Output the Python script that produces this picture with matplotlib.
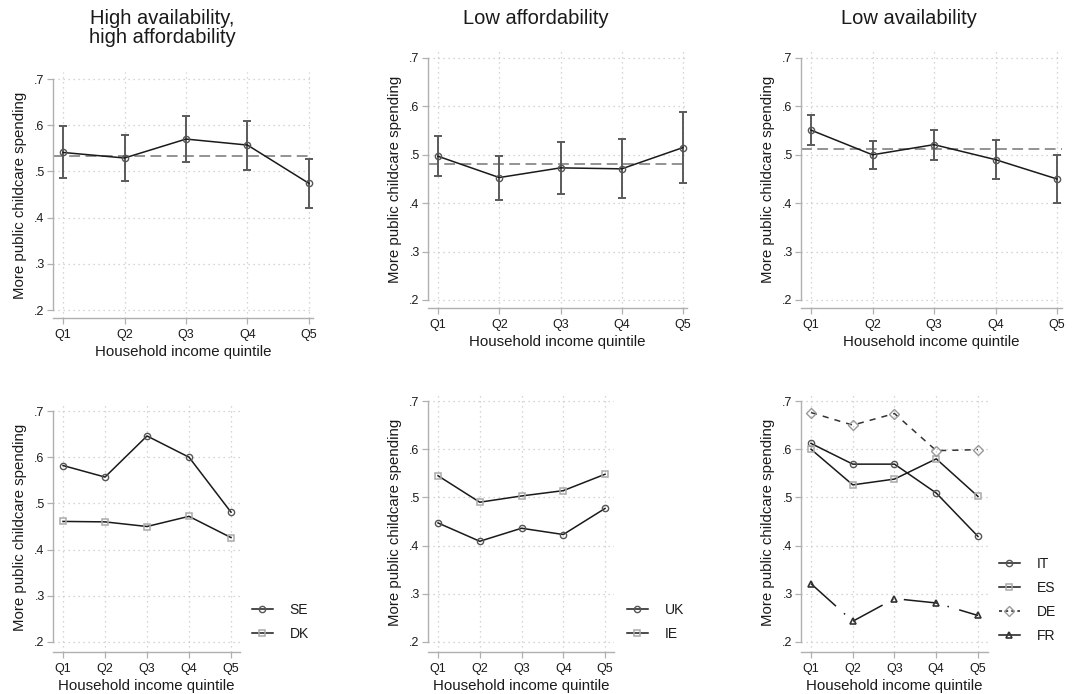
import matplotlib
matplotlib.use("Agg")
import matplotlib.pyplot as plt
from matplotlib.lines import Line2D

plt.rcParams['font.family'] = ['Liberation Sans', 'DejaVu Sans']

W, H = 1072, 694

quintiles = ["Q1", "Q2", "Q3", "Q4", "Q5"]
xpos = [1, 2, 3, 4, 5]
yticks = [0.2, 0.3, 0.4, 0.5, 0.6, 0.7]
ytick_labels = [".2", ".3", ".4", ".5", ".6", ".7"]

titles = ["High availability,\nhigh affordability", "Low affordability", "Low availability"]

# Top row: estimates with confidence intervals and overall mean
hh_est = [0.541, 0.529, 0.570, 0.557, 0.474]
hh_lo = [0.486, 0.479, 0.520, 0.504, 0.421]
hh_hi = [0.599, 0.579, 0.620, 0.609, 0.527]
hh_mean = 0.534

la_est = [0.497, 0.453, 0.473, 0.471, 0.515]
la_lo = [0.456, 0.407, 0.419, 0.410, 0.442]
la_hi = [0.538, 0.498, 0.527, 0.533, 0.588]
la_mean = 0.482

lv_est = [0.551, 0.500, 0.521, 0.490, 0.450]
lv_lo = [0.521, 0.470, 0.489, 0.449, 0.401]
lv_hi = [0.582, 0.528, 0.552, 0.530, 0.499]
lv_mean = 0.513

# Bottom row: country lines
SE = [0.582, 0.557, 0.646, 0.600, 0.481]
DK = [0.461, 0.460, 0.450, 0.472, 0.426]
UK = [0.447, 0.409, 0.436, 0.423, 0.477]
IE = [0.545, 0.490, 0.503, 0.514, 0.548]
IT = [0.612, 0.569, 0.569, 0.509, 0.419]
ES = [0.600, 0.526, 0.538, 0.580, 0.502]
DE = [0.676, 0.650, 0.674, 0.597, 0.599]
FR = [0.321, 0.243, 0.290, 0.281, 0.255]

TXT = '#1a1a1a'
AX = '#b0b0b0'
GRID = '#c8c8c8'

fig = plt.figure(figsize=(W / 100, H / 100), dpi=100)


def make_ax(xs, x1, x5, xr, yt, y7, y2, yb):
    ax = fig.add_axes([xs / W, 1 - yb / H, (xr - xs) / W, (yb - yt) / H])
    ppx = (x5 - x1) / 4.0
    ax.set_xlim(1 - (x1 - xs) / ppx, 5 + (xr - x5) / ppx)
    ppy = (y2 - y7) / 0.5
    ax.set_ylim(0.2 - (yb - y2) / ppy, 0.7 + (y7 - yt) / ppy)
    ax.set_xticks(xpos)
    ax.set_xticklabels(quintiles)
    ax.set_yticks(yticks)
    ax.set_yticklabels(ytick_labels)
    for s in ['top', 'right']:
        ax.spines[s].set_visible(False)
    ax.spines['left'].set_color(AX)
    ax.spines['bottom'].set_color(AX)
    ax.spines['left'].set_linewidth(1.0)
    ax.spines['bottom'].set_linewidth(1.0)
    ax.spines['left'].set_bounds(0.2, 0.7)
    ax.tick_params(axis='both', colors=AX, labelcolor=TXT, labelsize=9,
                   length=4, width=0.9, direction='out')
    ax.tick_params(axis='y', pad=2)
    ax.tick_params(axis='x', pad=4)
    ax.grid(True, color=GRID, linestyle=(0, (1, 3)), linewidth=0.9)
    ax.set_axisbelow(True)
    ax.set_ylabel("More public childcare spending", fontsize=10.8, color=TXT, labelpad=5)
    ax.set_xlabel("Household income quintile", fontsize=10.8, color=TXT, labelpad=3)
    return ax


top_axes = [
    make_ax(53, 63, 309, 313, 72, 79, 310, 318),
    make_ax(428, 438, 683, 687, 51, 58, 300, 308),
    make_ax(801, 811, 1057, 1062, 51, 58, 300, 308),
]
bot_axes = [
    make_ax(53, 63, 231, 240, 403, 411, 642, 652),
    make_ax(428, 438, 605, 614, 392, 401, 642, 652),
    make_ax(801, 811, 978, 988, 392, 401, 642, 652),
]

top_data = [(hh_est, hh_lo, hh_hi, hh_mean), (la_est, la_lo, la_hi, la_mean),
            (lv_est, lv_lo, lv_hi, lv_mean)]

for ax, (est, lo, hi, mean) in zip(top_axes, top_data):
    ax.axhline(mean, color='#8a8a8a', linestyle=(0, (6, 3)), linewidth=1.3, zorder=2)
    yerr = [[e - l for e, l in zip(est, lo)], [h - e for e, h in zip(est, hi)]]
    ax.errorbar(xpos, est, yerr=yerr, fmt='none', ecolor='#5a5a5a', elinewidth=1.4,
                capsize=2.6, capthick=1.4, zorder=3)
    ax.plot(xpos, est, color='#1a1a1a', linewidth=1.1, marker='o', markersize=4.5,
            markerfacecolor='none', markeredgecolor='#555555', markeredgewidth=1.0, zorder=4)

title_x = [162, 536, 909]
fig.text(title_x[0] / W, 1 - 28 / H, titles[0], ha='center', va='center', fontsize=14.5,
         color=TXT, linespacing=1.0)
fig.text(title_x[1] / W, 1 - 18 / H, titles[1], ha='center', va='center', fontsize=14.5, color=TXT)
fig.text(title_x[2] / W, 1 - 18 / H, titles[2], ha='center', va='center', fontsize=14.5, color=TXT)

circ = dict(marker='o', markersize=4.5, markerfacecolor='none', markeredgecolor='#555555',
            markeredgewidth=1.0)
sq = dict(marker='s', markersize=4.5, markerfacecolor='none', markeredgecolor='#aaaaaa',
          markeredgewidth=1.1)
dia = dict(marker='D', markersize=5, markerfacecolor='none', markeredgecolor='#999999',
           markeredgewidth=1.0)
tri = dict(marker='^', markersize=5, markerfacecolor='none', markeredgecolor='#333333',
           markeredgewidth=1.2)

ax = bot_axes[0]
ax.plot(xpos, SE, color='#1a1a1a', linewidth=1.1, label='SE', **circ)
ax.plot(xpos, DK, color='#1a1a1a', linewidth=1.1, label='DK', **sq)

ax = bot_axes[1]
ax.plot(xpos, UK, color='#1a1a1a', linewidth=1.1, label='UK', **circ)
ax.plot(xpos, IE, color='#1a1a1a', linewidth=1.1, label='IE', **sq)

ax = bot_axes[2]
ax.plot(xpos, IT, color='#1a1a1a', linewidth=1.1, label='IT', **circ)
ax.plot(xpos, ES, color='#1a1a1a', linewidth=1.1, label='ES', **sq)
ax.plot(xpos, DE, color='#333333', linewidth=1.1, linestyle=(0, (4, 4)), label='DE', **dia)
ax.plot(xpos, FR, color='#1a1a1a', linewidth=1.1, linestyle=(0, (22, 7, 1, 7)), label='FR', **tri)


def add_legend(ax, handles, labels, x, y):
    ax.legend(handles, labels, loc='upper left', bbox_to_anchor=(x / W, 1 - y / H),
              bbox_transform=fig.transFigure, frameon=False, fontsize=10,
              handlelength=1.5, handletextpad=1.2, labelspacing=0.72,
              borderpad=0, borderaxespad=0, labelcolor=TXT)


def h(style, ls='-'):
    return Line2D([0], [0], color='#1a1a1a', linewidth=1.1, linestyle=ls, **style)


add_legend(bot_axes[0], [h(circ), h(sq)], ['SE', 'DK'], 252, 603)
add_legend(bot_axes[1], [h(circ), h(sq)], ['UK', 'IE'], 627, 603)
add_legend(bot_axes[2], [h(circ), h(sq), h(dia, (0, (2, 2))), h(tri)],
           ['IT', 'ES', 'DE', 'FR'], 999, 557)

fig.savefig("out.png", dpi=100)
